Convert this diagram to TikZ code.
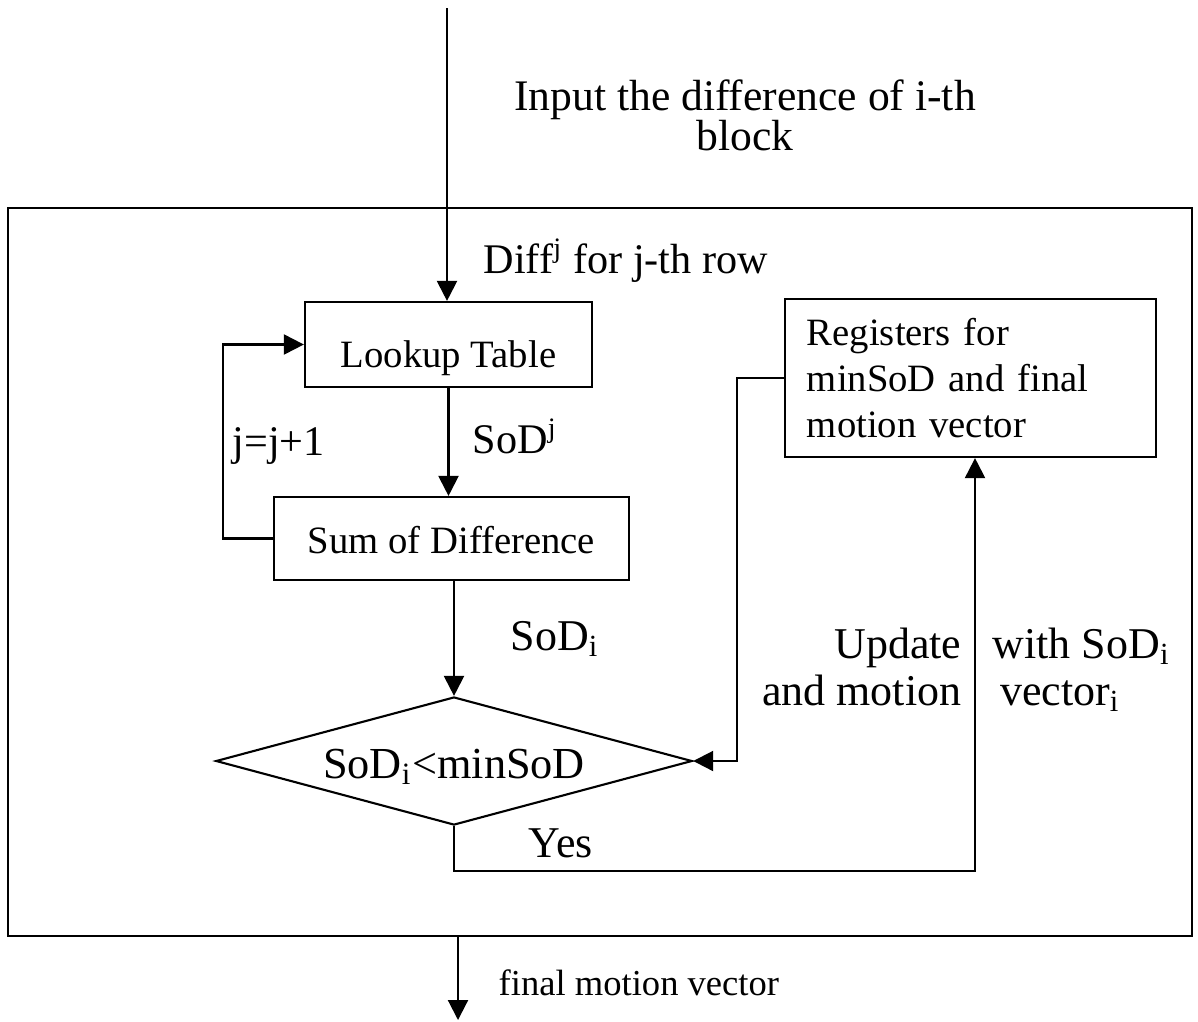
\documentclass[tikz,border=0pt]{standalone}
\usepackage{fontspec}
\setmainfont{Liberation Serif}
\usetikzlibrary{positioning,arrows.meta,shapes.geometric}
\tikzset{
  flowbox/.style={draw, line width=0.6pt, inner sep=0pt, font=\fontsize{11}{13.1}\selectfont},
  flowcond/.style={draw, diamond, aspect=3.7, line width=0.6pt, inner sep=0pt,
    font=\fontsize{12.6}{14}\selectfont},
  flowarrow/.style={-{Triangle[length=2mm, width=2mm]}, line width=0.6pt},
  flowline/.style={line width=0.6pt},
  flowlabel/.style={inner sep=0pt, font=\fontsize{12.5}{13.4}\selectfont},
}

\begin{document}
\begin{tikzpicture}[x=0.01cm, y=-0.01cm]
  \useasboundingbox (0,0) rectangle (1198,1021);
  % outer frame
  \node[draw, line width=0.6pt, minimum width=11.84cm, minimum height=7.28cm] (frame) at (600,572) {};
  % boxes
  \node[flowbox, minimum width=2.87cm, minimum height=0.85cm, text height=0.45cm, text depth=0pt] (lut) at (448.5,344.5) {Lookup Table};
  \node[flowbox, minimum width=3.55cm, minimum height=0.83cm, text height=0.29cm, text depth=0pt] (sum) at (451.5,538.5) {Sum of Difference};
  \node[flowbox, minimum width=3.71cm, minimum height=1.58cm, text width=3.27cm, align=left] (reg) at (970.5,378) {Registers for\\minSoD and final\\motion vector};
  \node[flowcond, minimum width=4.76cm, minimum height=1.28cm, text height=0.34cm, text depth=0pt] (cond) at (454,761) {SoD\textsubscript{i}<minSoD};
  % labels
  \node[flowlabel, font={\fontsize{12.4}{11.4}\selectfont\lineskiplimit=-20pt\relax}, align=center, anchor=north] (inlbl) at (745,79) {Input the difference of i-th\\block};
  \node[flowlabel, font=\fontsize{12}{13}\selectfont, anchor=base west] (difflbl) at (483,273) {Diff\textsuperscript{j} for j-th row};
  \node[flowlabel, font=\fontsize{12}{13}\selectfont, anchor=base west] (sodj) at (472,453) {SoD\textsuperscript{j}};
  \node[flowlabel, font=\fontsize{12}{13}\selectfont, anchor=base west] (jinc) at (232,455) {j=j+1};
  \node[flowlabel, anchor=base west] (sodi) at (510,650) {SoD\textsubscript{i}};
  \node[flowlabel, anchor=base west] (yes) at (528,857) {Yes};
  \node[flowlabel, align=right, anchor=north east] (updl) at (962,627) {Update\hspace{0.25cm}\\and motion};
  \node[flowlabel, align=left, anchor=north west] (updr) at (992,627) {with SoD\textsubscript{i}\\\,vector\textsubscript{i}};
  \node[flowlabel, font=\fontsize{10.4}{12}\selectfont, anchor=base west] (outlbl) at (498,995) {final motion vector};
  % turning points
  \coordinate (in) at (447,8);
  \coordinate (loopx) at (223,0);
  \coordinate (backx) at (737,0);
  \coordinate (yesturn) at (975,871);
  \coordinate (out) at (458,1020);
  % connectors
  \draw[flowarrow] (in) -- (in |- lut.north);
  \draw[flowarrow] (lut.south) -- (lut.south |- sum.north);
  \draw[flowarrow] (sum.west) -- (sum.west -| loopx) |- (lut.west);
  \draw[flowarrow] (cond.north |- sum.south) -- (cond.north);
  \draw[flowarrow] (reg.west) -- (reg.west -| backx) |- (cond.east);
  \draw[flowarrow] (cond.south) |- (yesturn) -- (yesturn |- reg.south);
  \draw[flowarrow] (out |- frame.south) -- (out);
\end{tikzpicture}
\end{document}
